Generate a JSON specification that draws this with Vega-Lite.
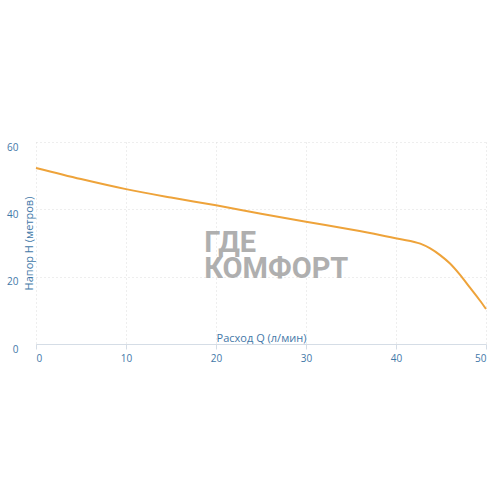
{
  "$schema": "https://vega.github.io/schema/vega-lite/v6.json",
  "width": 450,
  "height": 202,
  "autosize": "none",
  "padding": {"left": 36, "top": 142, "right": 10, "bottom": 152},
  "background": "white",
  "config": {"view": {"stroke": null}, "font": "Open Sans"},
  "datasets": {
    "curve": [
      {"q": 0, "h": 52.3},
      {"q": 5, "h": 49.0},
      {"q": 10, "h": 46.0},
      {"q": 15, "h": 43.5},
      {"q": 20, "h": 41.2},
      {"q": 25, "h": 38.7},
      {"q": 30, "h": 36.3},
      {"q": 35, "h": 34.0},
      {"q": 38.2, "h": 32.4},
      {"q": 40.4, "h": 31.2},
      {"q": 42.7, "h": 29.8},
      {"q": 43.8, "h": 28.4},
      {"q": 44.9, "h": 26.4},
      {"q": 46.0, "h": 23.9},
      {"q": 47.1, "h": 20.6},
      {"q": 48.2, "h": 16.8},
      {"q": 49.3, "h": 13.0},
      {"q": 50, "h": 10.4}
    ],
    "wm": [
      {"q": 18.7, "h": 30.0, "t": "ГДЕ\nКОМФОРТ"}
    ]
  },
  "layer": [
    {
      "data": {"name": "wm"},
      "mark": {"type": "text", "align": "left", "baseline": "middle", "lineBreak": "\n", "lineHeight": 26, "fontSize": 29, "fontWeight": "bold", "font": "Roboto", "color": "#a2a2a2", "opacity": 0.85},
      "encoding": {
        "x": {"field": "q", "type": "quantitative", "scale": {"domain": [0, 50]}},
        "y": {"field": "h", "type": "quantitative", "scale": {"domain": [0, 60]}},
        "text": {"field": "t"}
      }
    },
    {
      "data": {"name": "curve"},
      "mark": {"type": "line", "interpolate": "monotone", "color": "#eea33a", "strokeWidth": 2},
      "encoding": {
        "x": {
          "field": "q", "type": "quantitative",
          "scale": {"domain": [0, 50], "nice": false},
          "axis": {
            "values": [0, 10, 20, 30, 40, 50],
            "title": "Расход Q (л/мин)",
            "titleColor": "#3f78a8", "titleFontWeight": "normal", "titleFontSize": 11,
            "titleY": -1, "titleBaseline": "bottom",
            "labelColor": "#3f78a8", "labelFontSize": 10, "labelPadding": 4,
            "domainColor": "#d5dde6", "tickColor": "#d5dde6", "tickSize": 5,
            "grid": true, "gridColor": "#dcdcdc", "gridDash": [1, 3]
          }
        },
        "y": {
          "field": "h", "type": "quantitative",
          "scale": {"domain": [0, 60], "nice": false},
          "axis": {
            "values": [0, 20, 40, 60],
            "title": "Напор H (метров)",
            "titleColor": "#3f78a8", "titleFontWeight": "normal", "titleFontSize": 11,
            "titleX": -2, "titleBaseline": "bottom",
            "labelColor": "#3f78a8", "labelFontSize": 10, "labelPadding": 18, "labelBaseline": "top",
            "domain": false, "ticks": false,
            "grid": true, "gridColor": "#dcdcdc", "gridDash": [1, 3]
          }
        }
      }
    }
  ]
}
